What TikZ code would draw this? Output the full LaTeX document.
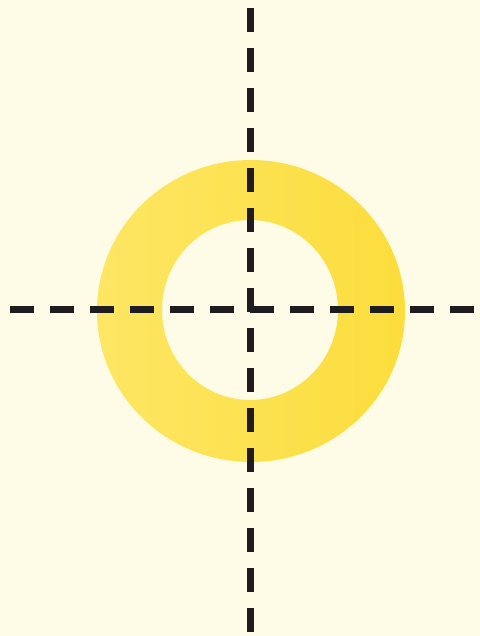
\documentclass[tikz,border=0pt]{standalone}
\usepackage{tikz}
\usetikzlibrary{calc}
\usepackage{xcolor}

\definecolor{paper}{RGB}{254,252,230}
\definecolor{ringyellow}{RGB}{252,221,60}
\definecolor{ringpale}{RGB}{253,230,100}
\definecolor{axisblack}{RGB}{30,28,30}

\tikzset{
  axisline/.style={draw=axisblack, line width=0.14cm,
                   dash pattern=on 0.48cm off 0.32cm},
}

\begin{document}
\begin{tikzpicture}[x=0.02cm, y=0.02cm]
  % paper and frame of the picture
  \fill[paper] (0,0) rectangle (480,636);
  \useasboundingbox (0,0) rectangle (480,636);

  % centre of the ring and ends of the two axes
  \coordinate (centre) at (250,326);
  \coordinate (vtop) at (250,628);
  \coordinate (vbottom) at (250,0);
  \coordinate (hleft) at (10,326);
  \coordinate (hright) at (480,326);

  % yellow ring
  \path[left color=ringpale, right color=ringyellow, even odd rule]
    ($(centre)+(1,-1)$) ellipse [x radius=154, y radius=151]
    (centre) ellipse [x radius=88, y radius=90];

  % dashed axes
  \draw[axisline] (vtop) -- (vbottom);
  \draw[axisline] (hleft) -- (hright);
\end{tikzpicture}
\end{document}
